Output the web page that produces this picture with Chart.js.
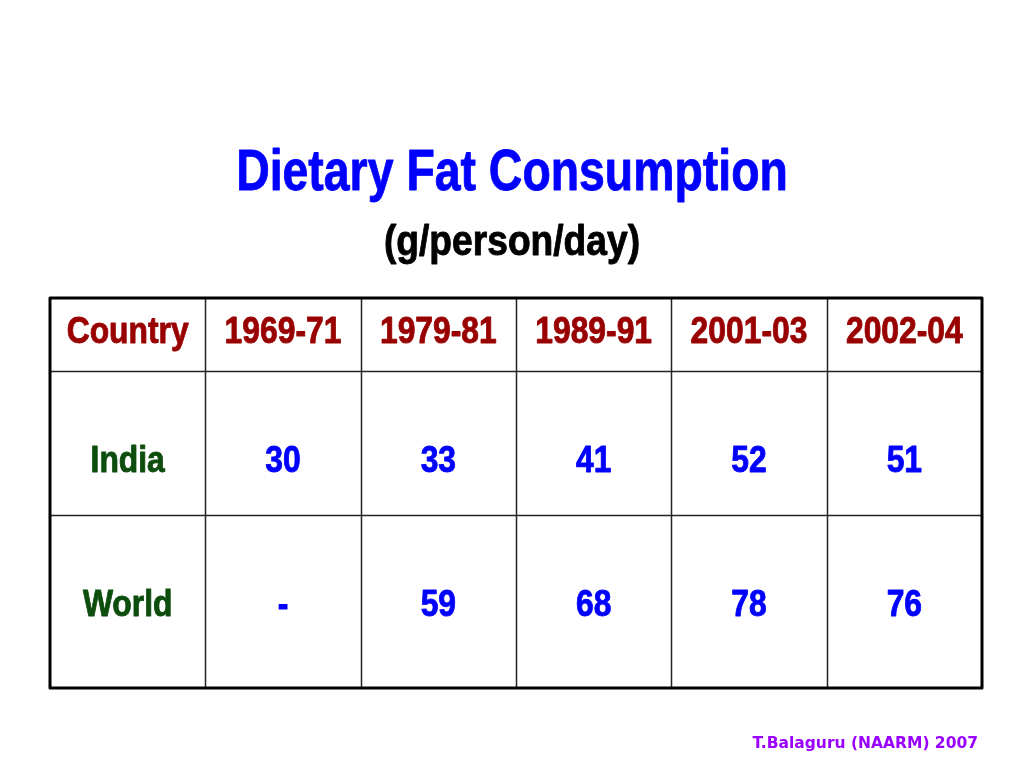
<!DOCTYPE html>
<html>
<head>
<meta charset="utf-8">
<title>Dietary Fat Consumption</title>
<script src="https://cdn.jsdelivr.net/npm/chart.js@4.4.1/dist/chart.umd.min.js"></script>
<style>
    html, body { margin: 0; padding: 0; background: #ffffff; }
    #tablaGrasas { display: block; }
</style>
</head>
<body>
<canvas id="tablaGrasas" width="1024" height="768"></canvas>
<script>
// datos de la tabla
const titleText = 'Dietary Fat Consumption';
const subtitleText = '(g/person/day)';
const headerCountry = 'Country';
const periods = ['1969-71', '1979-81', '1989-91', '2001-03', '2002-04'];
const countries = ['India', 'World'];
const indiaValues = [30, 33, 41, 52, 51];
const worldValues = [null, 59, 68, 78, 76];   // null -> "-"

const baseFont = "'Liberation Sans', Arial, sans-serif";

// texto "narrow": se comprime el ancho medido con fillText(maxWidth)
// y se engrosa un poco con un trazo del mismo color
function narrowText(ctx, txt, x, y, squeeze, weight) {
    const w = ctx.measureText(txt).width;
    ctx.fillText(txt, x, y, w * squeeze);
    if (weight) {
        ctx.lineWidth = weight;
        ctx.strokeStyle = ctx.fillStyle;
        ctx.strokeText(txt, x, y, w * squeeze);
    }
}

// plugin que dibuja la tabla usando las escalas del grafico
const tablePlugin = {
    id: 'tablePlugin',
    afterDraw(chart, args, opts) {
        const ctx = chart.ctx;
        const xs = chart.scales.x;
        const ys = chart.scales.y;
        const area = chart.chartArea;
        const colWidth = (area.right - area.left) / xs.getLabels().length;

        const rows = [
            { label: headerCountry, values: periods, labelColor: opts.headerColor, valueColor: opts.headerColor },
            { label: countries[0], values: indiaValues, labelColor: opts.countryColor, valueColor: opts.valueColor },
            { label: countries[1], values: worldValues, labelColor: opts.countryColor, valueColor: opts.valueColor }
        ];

        ctx.save();
        ctx.lineJoin = 'round';

        // titulos
        ctx.textAlign = 'center';
        ctx.textBaseline = 'alphabetic';
        ctx.fillStyle = opts.titleColor;
        ctx.font = 'bold ' + opts.titleSize + 'px ' + baseFont;
        narrowText(ctx, titleText, opts.titleX, opts.titleY, opts.titleSqueeze, opts.textWeight);
        ctx.fillStyle = opts.subtitleColor;
        ctx.font = 'bold ' + opts.subtitleSize + 'px ' + baseFont;
        narrowText(ctx, subtitleText, opts.titleX, opts.subtitleY, opts.subtitleSqueeze, opts.textWeight);

        // lineas interiores
        ctx.strokeStyle = opts.innerColor;
        ctx.lineWidth = opts.innerWidth;
        ctx.beginPath();
        for (let i = 1; i < xs.getLabels().length; i++) {
            const x = Math.round(xs.getPixelForValue(i) - colWidth / 2) + 0.5;
            ctx.moveTo(x, area.top);
            ctx.lineTo(x, area.bottom);
        }
        for (let r = 1; r < opts.rowEdges.length - 1; r++) {
            const y = Math.round(ys.getPixelForValue(opts.rowEdges[r])) + 0.5;
            ctx.moveTo(area.left, y);
            ctx.lineTo(area.right, y);
        }
        ctx.stroke();

        // borde exterior
        ctx.strokeStyle = opts.outerColor;
        ctx.lineWidth = opts.outerWidth;
        ctx.strokeRect(area.left, area.top, area.right - area.left, area.bottom - area.top);

        // textos de las celdas (linea base)
        ctx.font = 'bold ' + opts.cellFontSize + 'px ' + baseFont;
        rows.forEach(function (row, r) {
            const y = ys.getPixelForValue(opts.baseLines[r]);
            ctx.fillStyle = row.labelColor;
            narrowText(ctx, row.label, xs.getPixelForValue(0), y, opts.cellSqueeze, opts.textWeight);
            ctx.fillStyle = row.valueColor;
            row.values.forEach(function (v, c) {
                const txt = (v === null) ? '-' : String(v);
                narrowText(ctx, txt, xs.getPixelForValue(c + 1), y, opts.cellSqueeze, opts.textWeight);
            });
        });

        // pie de pagina
        ctx.font = 'bold ' + opts.footerFontSize + 'px "DejaVu Sans", Verdana, sans-serif';
        ctx.textAlign = 'right';
        ctx.fillStyle = opts.footerColor;
        ctx.fillText(opts.footerText, opts.footerX, opts.footerY);

        ctx.restore();
    }
};

const ctx = document.getElementById('tablaGrasas').getContext('2d');

new Chart(ctx, {
    type: 'scatter',
    data: {
        labels: [headerCountry].concat(periods),
        datasets: []
    },
    options: {
        responsive: false,
        animation: false,
        layout: {
            padding: { top: 298, left: 50, right: 42, bottom: 80 }
        },
        scales: {
            x: {
                type: 'category',
                labels: [headerCountry].concat(periods),
                offset: true,
                display: false
            },
            y: {
                type: 'linear',
                min: 0,
                max: 390,
                reverse: true,
                display: false
            }
        },
        plugins: {
            legend: { display: false },
            tooltip: { enabled: false },
            title: { display: false },
            tablePlugin: {
                textWeight: 0.9,
                titleX: 512,
                titleY: 190,
                titleSize: 58,
                titleSqueeze: 0.80,
                titleColor: '#0000ff',
                subtitleY: 255,
                subtitleSize: 42,
                subtitleSqueeze: 0.885,
                subtitleColor: '#000000',
                rowEdges: [0, 73, 217, 390],
                baseLines: [45, 174, 318],
                cellFontSize: 37,
                cellSqueeze: 0.86,
                headerColor: '#990000',
                countryColor: '#0d4d0d',
                valueColor: '#0000ff',
                innerColor: '#222222',
                innerWidth: 1.5,
                outerColor: '#000000',
                outerWidth: 3,
                footerText: 'T.Balaguru (NAARM) 2007',
                footerFontSize: 15.5,
                footerColor: '#9900ff',
                footerX: 978,
                footerY: 748
            }
        }
    },
    plugins: [tablePlugin]
});
</script>
</body>
</html>
